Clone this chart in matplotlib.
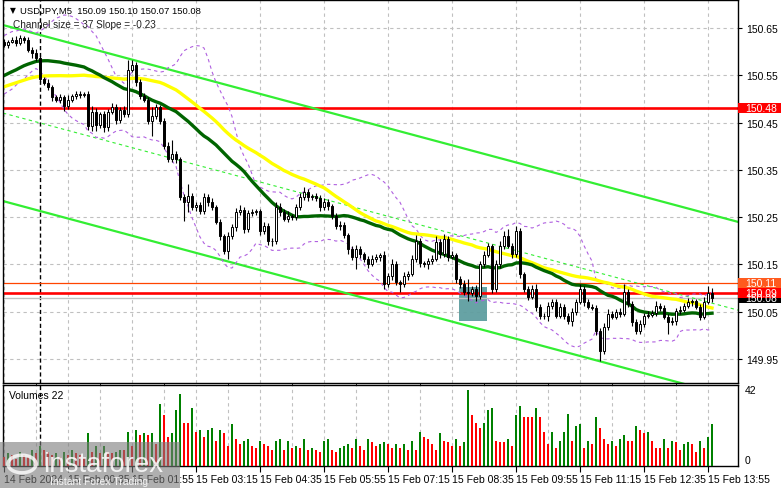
import numpy as np
import pandas as pd
import matplotlib
matplotlib.use("Agg")
import matplotlib.pyplot as plt
import matplotlib.transforms as mtransforms
from matplotlib.patches import Rectangle, Circle

# prices are kept as thousandths above 150.000
BASE = 150.0

# closes before the visible window, only used to seed the averages
pre_close = [482, 477, 486, 490, 479, 473, 484, 492, 488, 498,
             503, 494, 490, 501, 496, 505, 498, 492, 486, 490,
             496, 501, 503, 494, 498, 505, 509, 503, 511,
             519, 524, 530, 526, 536, 545, 541, 551, 557, 562,
             570, 578, 583, 587, 593, 599, 604, 608, 612, 616]

first_open = 621
close = [614, 621, 625, 618, 629, 625, 604, 597, 587, 541,
         534, 524, 503, 498, 503, 484, 498, 505, 511, 509,
         511, 442, 473, 444, 467, 440, 473, 482, 456, 477,
         467, 562, 572, 536, 505, 498, 454, 463, 482, 454,
         400, 372, 383, 372, 292, 282, 294, 271, 275, 263,
         292, 282, 271, 240, 210, 178, 210, 229, 261, 265,
         225, 258, 261, 262, 221, 231, 200, 199, 271, 261,
         246, 252, 251, 271, 292, 303, 292, 294, 290, 271,
         282, 273, 252, 231, 233, 212, 183, 166, 183, 172,
         162, 151, 162, 166, 170, 109, 126, 151, 113, 109,
         126, 130, 162, 200, 153, 151, 157, 162, 197, 172,
         204, 166, 170, 120, 109, 92, 90, 98, 84, 151,
         170, 189, 98, 151, 189, 210, 189, 172, 221, 130,
         98, 82, 98, 61, 42, 41, 63, 71, 42, 61,
         42, 31, 50, 71, 98, 71, 61, 59, 10, -32,
         18, 46, 40, 50, 46, 92, 67, 29, 10, 25,
         42, 44, 48, 63, 59, 40, 29, 31, 52, 54,
         63, 71, 72, 61, 40, 71, 90, 80]

# upper / lower wick lengths
upper_wick = [6, 4, 5, 8, 6, 4, 5, 6, 8, 5,
              6, 8, 5, 6, 8, 6, 10, 5, 6, 5,
              4, 5, 12, 8, 6, 8, 5, 10, 8, 6,
              8, 21, 11, 5, 6, 8, 6, 19, 8, 6,
              5, 8, 31, 6, 5, 6, 26, 8, 6, 8,
              10, 6, 8, 5, 6, 5, 8, 6, 8, 10,
              6, 8, 6, 5, 6, 8, 6, 5, 10, 8,
              6, 10, 5, 6, 8, 10, 6, 5, 8, 6,
              8, 6, 5, 6, 8, 6, 5, 6, 8, 6,
              5, 6, 8, 6, 5, 8, 6, 10, 6, 5,
              8, 6, 8, 13, 6, 5, 6, 8, 13, 6,
              10, 6, 8, 5, 6, 8, 28, 6, 8, 6,
              8, 6, 5, 8, 10, 11, 15, 6, 10, 6,
              5, 6, 8, 11, 6, 5, 8, 6, 5, 8,
              6, 5, 8, 6, 10, 6, 5, 6, 5, 6,
              8, 10, 6, 6, 8, 17, 6, 5, 6, 8,
              6, 8, 6, 10, 6, 5, 6, 8, 6, 8,
              6, 8, 6, 5, 6, 10, 15, 10]
lower_wick = [5, 6, 4, 6, 5, 8, 5, 10, 6, 6,
              5, 6, 8, 5, 6, 10, 6, 5, 6, 8,
              6, 8, 10, 12, 6, 10, 8, 5, 10, 8,
              6, 5, 6, 8, 6, 5, 8, 33, 6, 8,
              6, 5, 6, 8, 6, 40, 21, 6, 8, 6,
              6, 8, 6, 5, 8, 6, 16, 6, 8, 6,
              8, 6, 5, 6, 8, 6, 8, 10, 6, 8,
              5, 6, 8, 6, 5, 6, 8, 5, 6, 8,
              6, 8, 5, 6, 8, 6, 10, 6, 25, 8,
              6, 8, 5, 6, 8, 10, 6, 8, 6, 17,
              6, 8, 5, 6, 8, 6, 10, 6, 5, 8,
              6, 8, 5, 10, 8, 6, 18, 6, 11, 8,
              6, 5, 8, 6, 8, 6, 5, 8, 6, 8,
              6, 8, 5, 10, 8, 6, 11, 8, 6, 5,
              8, 6, 10, 6, 5, 8, 6, 5, 10, 21,
              8, 6, 5, 6, 8, 5, 6, 10, 8, 6,
              8, 5, 6, 6, 8, 6, 25, 6, 8, 6,
              5, 6, 8, 6, 8, 6, 5, 10]

volume = [5, 7, 6, 4, 8, 6, 5, 9, 7, 11,
          9, 8, 6, 7, 5, 8, 6, 9, 7, 6,
          5, 18, 8, 11, 7, 11, 8, 7, 8, 9,
          9, 19, 11, 20, 17, 18, 17, 18, 12, 34,
          28, 16, 18, 31, 40, 24, 24, 32, 19, 20,
          16, 20, 21, 14, 20, 18, 11, 23, 15, 12,
          14, 15, 11, 10, 14, 12, 11, 9, 14, 15,
          9, 14, 10, 11, 10, 15, 9, 10, 9, 8,
          14, 15, 9, 8, 10, 11, 12, 10, 15, 11,
          9, 15, 13, 11, 12, 13,
          12, 10, 12, 10, 12, 9, 14, 9, 19, 16,
          15, 12, 9, 18, 14, 13, 11, 15, 11, 13,
          42, 28, 24, 21, 24, 31, 32, 14, 13, 13,
          15, 11, 28, 33, 27, 27, 27, 32, 27, 19,
          12, 19, 10, 14, 19, 29, 14, 22, 23, 10,
          14, 12, 27, 21, 15, 12, 14, 11, 15, 17,
          14, 14, 22, 20, 18, 19, 14, 10, 10, 15,
          10, 14, 13, 9, 12, 13, 12, 8, 14, 10,
          16, 23]

time_labels = ["14 Feb 2024", "15 Feb 00:35", "15 Feb 01:55", "15 Feb 03:15",
               "15 Feb 04:35", "15 Feb 05:55", "15 Feb 07:15", "15 Feb 08:35",
               "15 Feb 09:55", "15 Feb 11:15", "15 Feb 12:35", "15 Feb 13:55"]
price_ticks = [149.95, 150.05, 150.15, 150.25, 150.35, 150.45, 150.55, 150.65]

# levels drawn on the chart: (price, colour, width)
levels = [(150.48, "#ff0000", 1.9), (150.11, "#ff4500", 0.9), (150.09, "#ff0000", 1.9)]
tags = [(150.08, "150.08", "#000000"), (150.48, "150.48", "#ff0000"),
        (150.11, "150.11", "#ff5a1e"), (150.09, "150.09", "#ff0000")]
# trend channel: (bar, price) end points
chan_up = [(-0.25, 150.656), (183.5, 150.240)]
chan_dn = [(-0.25, 150.284), (183.5, 149.867)]

n = len(close)
cl = BASE + np.array(close) / 1000
op = np.concatenate([[BASE + first_open / 1000], cl[:-1]])
hi = np.maximum(op, cl) + np.array(upper_wick) / 1000
lo = np.minimum(op, cl) - np.array(lower_wick) / 1000
x = np.arange(n)

allc = pd.Series(np.concatenate([BASE + np.array(pre_close) / 1000, cl]))
npre = len(pre_close)
ma30 = allc.rolling(30).mean().to_numpy()[npre:]
ma50 = allc.rolling(50).mean().to_numpy()[npre:]
mid = allc.rolling(20).mean()
sd = allc.rolling(20).std(ddof=0)
bb_up = (mid + 2 * sd).to_numpy()[npre:]
bb_dn = (mid - 2 * sd).to_numpy()[npre:]

plt.rcParams["font.family"] = "Liberation Sans"
fig = plt.figure(figsize=(7.81, 4.89), dpi=100)
W, H = 781, 489
ax = fig.add_axes([3 / W, 1 - 384 / H, 735 / W, 383 / H])
axv = fig.add_axes([3 / W, 1 - 467 / H, 735 / W, 81 / H], sharex=ax)

grid_kw = dict(color="#c0c0c0", linestyle=(0, (3, 3)), linewidth=0.8)

# ---- price panel
ax.set_xlim(-0.25, 183.5)
ax.set_ylim(149.8995, 150.7089)
ax.set_yticks(price_ticks)
ax.yaxis.tick_right()
ax.tick_params(axis="y", labelsize=7.5, length=3, pad=3)
ax.yaxis.set_major_formatter(matplotlib.ticker.FormatStrFormatter("%.2f"))
ax.set_xticks(np.arange(0, 184, 8))
ax.tick_params(axis="x", length=0, labelbottom=False)
ax.grid(True, **grid_kw)
ax.set_axisbelow(True)

ax.add_patch(Rectangle((113.75, 150.031), 7.0, 0.072, facecolor="#5f9ea0",
                       edgecolor="none", alpha=0.95, zorder=1.5))

ax.axvline(9, color="black", linestyle=(0, (3, 2)), linewidth=1.0, zorder=1.6)
ax.axhline(150.08, color="#c0c0c0", linewidth=1.0, zorder=1.7)
for p, c, w in levels:
    ax.axhline(p, color=c, linewidth=w, zorder=1.8)

ax.plot(*zip(*chan_up), color="#33ee33", linewidth=1.6, zorder=2)
ax.plot(*zip(*chan_dn), color="#33ee33", linewidth=1.6, zorder=2)
mid_line = [(a[0], (a[1] + b[1]) / 2) for a, b in zip(chan_up, chan_dn)]
ax.plot(*zip(*mid_line), color="#33ee33", linewidth=0.8, linestyle=(0, (3, 3)), zorder=2)

ax.plot(x, bb_up, color="#b060e0", linewidth=0.8, linestyle=(0, (3, 3)), zorder=2.1)
ax.plot(x, bb_dn, color="#b060e0", linewidth=0.8, linestyle=(0, (3, 3)), zorder=2.1)
ax.plot(x, ma50, color="#ffff00", linewidth=2.4, zorder=2.2)
ax.plot(x, ma30, color="#006400", linewidth=2.4, zorder=2.3)

ax.vlines(x, lo, hi, color="black", linewidth=0.8, zorder=3)
bull = cl >= op
body = np.maximum(np.abs(cl - op), 0.0004)
ax.bar(x, body, bottom=np.minimum(op, cl), width=0.68,
       color=np.where(bull, "white", "black"), edgecolor="black",
       linewidth=0.7, zorder=4)

# price tags at the right edge
tr = mtransforms.blended_transform_factory(ax.transAxes, ax.transData)
for p, s, c in tags:
    ax.add_patch(Rectangle((1.0, p - 0.0105), 0.06, 0.021, transform=tr,
                           facecolor=c, edgecolor="none", clip_on=False, zorder=5))
    ax.text(1.0095, p, s, transform=tr, color="white", fontsize=7.5,
            va="center", ha="left", zorder=6, clip_on=False)

ax.text(7 / 735, 1 - 10 / 383, "\u25BC", transform=ax.transAxes, fontsize=5.5,
        va="center", ha="left", family="DejaVu Sans")
ax.text(17 / 735, 1 - 10 / 383, "USDJPY,M5  150.09 150.10 150.07 150.08",
        transform=ax.transAxes, fontsize=6.8, va="center", ha="left")
ax.text(10 / 735, 1 - 24 / 383, "Channel size = 37 Slope = -0.23",
        transform=ax.transAxes, fontsize=7.2, va="center", ha="left", color="#202020")

# ---- volume panel
vcol = ["#008000" if i > 0 and volume[i] > volume[i - 1] else "#ff0000"
        for i in range(n)]
axv.bar(x, volume, width=0.72, color=vcol, zorder=3)
axv.set_ylim(0, 44.75)
axv.set_yticks([])
axv.set_xticks(np.arange(0, 184, 16))
axv.set_xticks(np.arange(0, 184, 8), minor=True)
axv.set_xticklabels(time_labels, ha="left", fontsize=7.6)
axv.tick_params(axis="x", which="major", length=4, pad=2)
axv.tick_params(axis="x", which="minor", length=0)
axv.grid(True, which="both", axis="x", **grid_kw)
axv.set_axisbelow(True)
axv.axvline(9, color="black", linestyle=(0, (3, 2)), linewidth=1.0, zorder=2)
trv = mtransforms.blended_transform_factory(axv.transAxes, axv.transData)
axv.text(1.009, 42, "42", transform=trv, fontsize=7.5, va="center", ha="left")
axv.text(1.009, 0.3, "0", transform=trv, fontsize=7.5, va="bottom", ha="left")
axv.text(6 / 735, 0.88, "Volumes 22", transform=axv.transAxes, fontsize=7.5,
         va="center", ha="left")

for a in (ax, axv):
    for sp in a.spines.values():
        sp.set_linewidth(1.0)
        sp.set_color("black")

# watermark in the lower left corner
fig.patches.append(Rectangle((0, 0), 180 / W, 46 / H, transform=fig.transFigure,
                             facecolor="#7a7a7a", alpha=0.6, edgecolor="none", zorder=10))
fig.patches.append(Circle((22 / W, 24 / H), 0.018, transform=fig.transFigure,
                          facecolor="none", edgecolor="white", linewidth=2.5,
                          alpha=0.8, zorder=11))
fig.text(43 / W, 24 / H, "instaforex", fontsize=20, color="white", alpha=0.85,
         va="center", ha="left", zorder=12)
fig.text(50 / W, 7 / H, "Instant Forex Trading", fontsize=7.5, color="white",
         alpha=0.85, va="center", ha="left", zorder=12)

fig.savefig("out.png", dpi=100)
